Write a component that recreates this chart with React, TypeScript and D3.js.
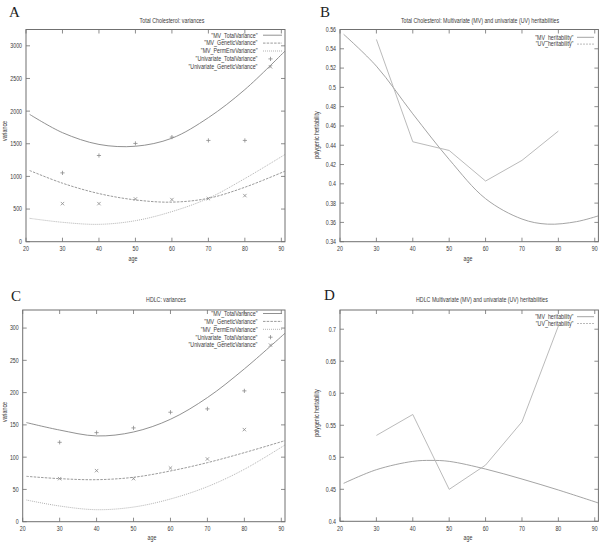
import React from "react";
import * as d3 from "d3";

// ---------- DATA ----------
const uniAges = [30, 40, 50, 60, 70, 80];
const mvAges = [21, 30, 40, 50, 60, 70, 80, 91];

// Panel A: Total Cholesterol variances
const aMvTotal = [1950, 1670, 1490, 1462, 1585, 1900, 2330, 2920];
const aMvGenetic = [1090, 896, 737, 640, 606, 665, 834, 1080];
const aMvPermEnv = [358, 297, 266, 322, 461, 665, 967, 1336];
const aUniTotal = [1054, 1320, 1505, 1602, 1551, 1551];
const aUniGenetic = [583, 583, 655, 645, 660, 706];
const aYTicks = [0, 500, 1000, 1500, 2000, 2500, 3000];

// Panel B: Total Cholesterol heritabilities
const bMvAges = [21, 30, 40, 50, 60, 70, 77, 85, 91];
const bMvH = [0.555, 0.522, 0.4726, 0.4253, 0.3846, 0.3635, 0.3582, 0.3608, 0.3668];
const bUvH = [0.5497, 0.4436, 0.4346, 0.4029, 0.4243, 0.4547];
const bYTicks = [0.34, 0.36, 0.38, 0.4, 0.42, 0.44, 0.46, 0.48, 0.5, 0.52, 0.54, 0.56];

// Panel C: HDLC variances
const cMvTotal = [153.6, 142, 132.9, 139, 158.7, 192.3, 236.8, 292];
const cMvGenetic = [70.3, 66.7, 65.1, 68.8, 78.6, 91.5, 107, 125.6];
const cMvPermEnv = [33.6, 24.3, 18.6, 22.7, 35.2, 54.3, 81.2, 118.9];
const cUniTotal = [123, 138, 145.3, 169.6, 174.8, 202.7];
const cUniGenetic = [66.7, 79.1, 66.7, 83.2, 97.2, 142.7];
const cYTicks = [0, 50, 100, 150, 200, 250, 300];

// Panel D: HDLC heritabilities
const dMvAges = [21, 30, 40, 45, 50, 60, 70, 80, 91];
const dMvH = [0.4593, 0.4806, 0.4936, 0.4951, 0.4936, 0.4816, 0.466, 0.4489, 0.4286];
const dUvH = [0.5341, 0.5668, 0.4499, 0.4878, 0.5554, 0.705];
const dYTicks = [0.4, 0.45, 0.5, 0.55, 0.6, 0.65, 0.7];

const xTicks = [20, 30, 40, 50, 60, 70, 80, 90];

// ---------- STYLE ----------
const FONT = "'Liberation Sans', Arial, sans-serif";
const TXT = "#3a3a3a";
const BORDER = "#707070";
const SX = 0.8;

const T = ({ x, y, anchor = "start", size = 6.6, rotate = 0, children }: any) => (
  <g transform={`translate(${x},${y}) rotate(${rotate}) scale(${SX},1)`}>
    <text x={0} y={0} textAnchor={anchor} fontSize={size} fontFamily={FONT} fill={TXT}>
      {children}
    </text>
  </g>
);

const Plus = ({ x, y, c = "#777", s = 2.1 }: any) => (
  <g stroke={c} strokeWidth={0.8}>
    <line x1={x - s} x2={x + s} y1={y} y2={y} />
    <line x1={x} x2={x} y1={y - s} y2={y + s} />
  </g>
);
const Cross = ({ x, y, c = "#777", s = 1.7 }: any) => (
  <g stroke={c} strokeWidth={0.8}>
    <line x1={x - s} x2={x + s} y1={y - s} y2={y + s} />
    <line x1={x - s} x2={x + s} y1={y + s} y2={y - s} />
  </g>
);

type Series = {
  name: string;
  ages: number[];
  values: number[];
  kind: "line" | "plus" | "cross";
  color: string;
  dash?: string;
};

const Panel = ({
  id, letter, letterPos, title, titlePos, box, yDomain, yTicks, ylabel, ylabelPos,
  agePos, series, legend,
}: any) => {
  const [l, r, t, b] = box;
  const x = d3.scaleLinear().domain([20, 91]).range([l, r]);
  const y = d3.scaleLinear().domain(yDomain).range([b, t]);
  const line = d3
    .line<[number, number]>()
    .x((d) => x(d[0]))
    .y((d) => y(d[1]))
    .curve(d3.curveCatmullRom.alpha(0.5));
  const straight = d3
    .line<[number, number]>()
    .x((d) => x(d[0]))
    .y((d) => y(d[1]));
  const tl = 4;
  return (
    <g>
      <defs>
        <clipPath id={`clip-${id}`}>
          <rect x={l} y={t} width={r - l} height={b - t} />
        </clipPath>
      </defs>
      <text x={letterPos[0]} y={letterPos[1]} fontFamily="'Liberation Serif', 'Times New Roman', serif" fontSize={15} fill="#222">
        {letter}
      </text>
      <T x={titlePos[0]} y={titlePos[1]} anchor="middle">{title}</T>
      {/* ticks */}
      <g stroke={BORDER} strokeWidth={0.8}>
        {xTicks.map((v) => (
          <g key={`xt${v}`}>
            <line x1={x(v)} x2={x(v)} y1={b} y2={b - tl} />
            <line x1={x(v)} x2={x(v)} y1={t} y2={t + tl} />
          </g>
        ))}
        {yTicks.map((v: number) => (
          <g key={`yt${v}`}>
            <line x1={l} x2={l + tl} y1={y(v)} y2={y(v)} />
            <line x1={r} x2={r - tl} y1={y(v)} y2={y(v)} />
          </g>
        ))}
      </g>
      {xTicks.map((v) => (
        <T key={`xl${v}`} x={x(v)} y={b + 9.5} anchor="middle">{String(v)}</T>
      ))}
      {yTicks.map((v: number) => (
        <T key={`yl${v}`} x={l - 4} y={y(v) + 2.4} anchor="end">{String(v)}</T>
      ))}
      <T x={agePos[0]} y={agePos[1]} anchor="middle">age</T>
      <T x={ylabelPos[0]} y={ylabelPos[1]} anchor="middle" rotate={-90}>{ylabel}</T>
      {/* data */}
      <g clipPath={`url(#clip-${id})`}>
        {series.map((s: Series) => {
          const pts = s.ages.map((a, i) => [a, s.values[i]] as [number, number]);
          if (s.kind === "line") {
            const gen = s.name.startsWith('"UV') ? straight : line;
            return (
              <path key={s.name} d={gen(pts) || ""} fill="none" stroke={s.color} strokeWidth={0.9} strokeDasharray={s.dash} />
            );
          }
          return (
            <g key={s.name}>
              {pts.map((p, i) =>
                s.kind === "plus" ? (
                  <Plus key={i} x={x(p[0])} y={y(p[1])} c={s.color} />
                ) : (
                  <Cross key={i} x={x(p[0])} y={y(p[1])} c={s.color} />
                )
              )}
            </g>
          );
        })}
      </g>
      {/* legend */}
      {series.map((s: Series, i: number) => {
        const ly = legend.y0 + i * legend.dy;
        return (
          <g key={`lg${s.name}`}>
            <T x={legend.tx} y={ly + 2.3} anchor="end">{s.name}</T>
            {s.kind === "line" ? (
              <line x1={legend.lx1} x2={legend.lx2} y1={ly} y2={ly} stroke={s.color} strokeWidth={0.9} strokeDasharray={s.legendDash || s.dash} />
            ) : s.kind === "plus" ? (
              <Plus x={(legend.lx1 + legend.lx2) / 2 - 2} y={ly} c={s.color} />
            ) : (
              <Cross x={(legend.lx1 + legend.lx2) / 2 - 2} y={ly} c={s.color} />
            )}
          </g>
        );
      })}
      <rect x={l} y={t} width={r - l} height={b - t} fill="none" stroke={BORDER} strokeWidth={1} />
    </g>
  );
};

const C_TOTAL = "#858585";
const C_GEN = "#8e8e8e";
const C_PERM = "#aaaaaa";
const C_PT = "#8a8a8a";
const C_MVH = "#9a9a9a";
const C_UVH = "#b2b2b2";

export default function App() {
  const varSeries = (tot: number[], gen: number[], perm: number[], ut: number[], ug: number[]): Series[] => [
    { name: '"MV_TotalVariance"', ages: mvAges, values: tot, kind: "line", color: C_TOTAL },
    { name: '"MV_GeneticVariance"', ages: mvAges, values: gen, kind: "line", color: C_GEN, dash: "2.5,1.2" },
    { name: '"MV_PermEnvVariance"', ages: mvAges, values: perm, kind: "line", color: C_PERM, dash: "1,1" },
    { name: '"Univariate_TotalVariance"', ages: uniAges, values: ut, kind: "plus", color: C_PT },
    { name: '"Univariate_GeneticVariance"', ages: uniAges, values: ug, kind: "cross", color: C_PT },
  ];
  const hSeries = (mvA: number[], mv: number[], uv: number[]): any[] => [
    { name: '"MV_heritability"', ages: mvA, values: mv, kind: "line", color: C_MVH },
    { name: '"UV_heritability"', ages: uniAges, values: uv, kind: "line", color: C_UVH, legendDash: "2,1" },
  ];
  return (
    <svg
      width={600}
      height={543}
      style={{ position: "absolute", left: 0, top: 0, background: "#fff" }}
    >
      <rect width={600} height={543} fill="#fff" />
      <Panel
        id="A" letter="A" letterPos={[9, 17]}
        title="Total Cholesterol: variances" titlePos={[172, 22.5]}
        box={[26, 285, 29.5, 241.7]} yDomain={[0, 3250]} yTicks={aYTicks}
        ylabel="variance" ylabelPos={[7, 131]} agePos={[133, 261]}
        series={varSeries(aMvTotal, aMvGenetic, aMvPermEnv, aUniTotal, aUniGenetic)}
        legend={{ tx: 257.5, lx1: 263, lx2: 282, y0: 35.2, dy: 7.9 }}
      />
      <Panel
        id="B" letter="B" letterPos={[320, 17]}
        title="Total Cholesterol: Multivariate (MV) and univariate (UV) heritabilities" titlePos={[480, 22.7]}
        box={[340, 598.4, 29.5, 241.7]} yDomain={[0.34, 0.56]} yTicks={bYTicks}
        ylabel="polygenic heritability" ylabelPos={[319, 135]} agePos={[468, 261]}
        series={hSeries(bMvAges, bMvH, bUvH)}
        legend={{ tx: 573.5, lx1: 577, lx2: 594, y0: 37.3, dy: 6.8 }}
      />
      <Panel
        id="C" letter="C" letterPos={[11, 301]}
        title="HDLC: variances" titlePos={[166, 302]}
        box={[22.7, 285, 310, 521.7]} yDomain={[0, 328]} yTicks={cYTicks}
        ylabel="variance" ylabelPos={[7, 412]} agePos={[152, 539.5]}
        series={varSeries(cMvTotal, cMvGenetic, cMvPermEnv, cUniTotal, cUniGenetic)}
        legend={{ tx: 257.5, lx1: 263, lx2: 282, y0: 313.5, dy: 7.9 }}
      />
      <Panel
        id="D" letter="D" letterPos={[324, 300]}
        title="HDLC Multivariate (MV) and univariate (UV) heritabilities" titlePos={[482, 301.7]}
        box={[340, 598.4, 310, 521.3]} yDomain={[0.4, 0.73]} yTicks={dYTicks}
        ylabel="polygenic heritability" ylabelPos={[319, 413]} agePos={[468, 539.5]}
        series={hSeries(dMvAges, dMvH, dUvH)}
        legend={{ tx: 573.5, lx1: 577, lx2: 594, y0: 316.7, dy: 6.8 }}
      />
    </svg>
  );
}
